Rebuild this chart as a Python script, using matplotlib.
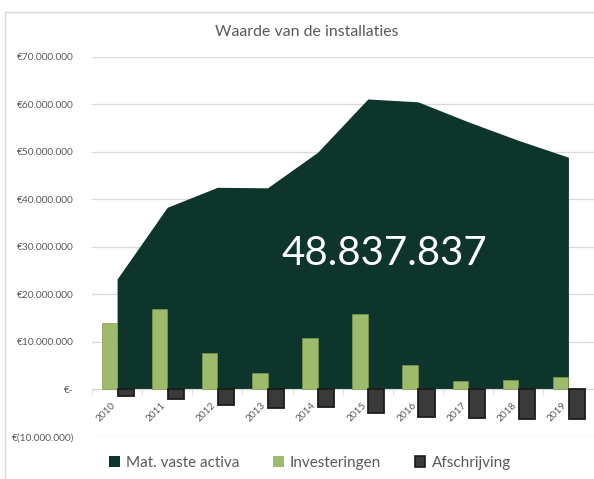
import numpy as np
import matplotlib
matplotlib.use("Agg")
import matplotlib.pyplot as plt
from matplotlib.patches import Patch, Rectangle
from matplotlib.ticker import FuncFormatter

plt.rcParams['font.family'] = ['Lato', 'DejaVu Sans']

# data (euro)
years = ['2010', '2011', '2012', '2013', '2014', '2015', '2016', '2017', '2018', '2019']
mat_vaste_activa = [23.2e6, 38.3e6, 42.5e6, 42.4e6, 49.9e6, 61.1e6, 60.5e6, 56.3e6, 52.4e6, 48837837]
investeringen = [13.9e6, 16.9e6, 7.7e6, 3.4e6, 10.8e6, 15.9e6, 5.1e6, 1.7e6, 1.9e6, 2.5e6]
afschrijving = [-1.4e6, -2.0e6, -3.4e6, -3.9e6, -3.7e6, -5.1e6, -5.9e6, -6.1e6, -6.3e6, -6.3e6]

c_area = '#0d352b'
c_green = '#9dbb6a'
c_dark = '#3b3a38'
c_grey = '#595959'
c_grid = '#d9d9d9'


def euro(v, pos):
    if v == 0:
        return '€-'
    s = f"{abs(v):,.0f}".replace(',', '.')
    return f"€({s})" if v < 0 else f"€{s}"


fig = plt.figure(figsize=(5.94, 4.79), dpi=100)
ax = fig.add_axes([92 / 594, 1 - 436.7 / 479, (593.5 - 92) / 594, (436.7 - 56.7) / 479])

x = np.arange(len(years))
ax.fill_between(x, 0, mat_vaste_activa, color=c_area, lw=0, zorder=1)
ax.bar(x - 0.155, investeringen, width=0.31, color=c_green, edgecolor='#7d9a52', lw=0.5, zorder=3)
ax.bar(x + 0.17, afschrijving, width=0.32, color=c_dark, edgecolor='#1c1c1c', lw=1.3, zorder=3)

ax.set_xlim(-0.5, len(years) - 0.5)
ax.set_ylim(-10e6, 70e6)
ax.set_yticks(np.arange(-10e6, 70e6 + 1, 10e6))
ax.yaxis.set_major_formatter(FuncFormatter(euro))
ax.grid(axis='y', color=c_grid, lw=0.9)
ax.set_axisbelow(True)

for s in ['top', 'right', 'left']:
    ax.spines[s].set_visible(False)
ax.spines['bottom'].set_position(('data', 0))
ax.spines['bottom'].set_color(c_grid)
ax.spines['bottom'].set_zorder(2)

ax.set_xticks(x)
ax.set_xticklabels(years)
ax.set_xticks(np.arange(len(years) + 1) - 0.5, minor=True)
ax.tick_params(axis='x', which='major', length=0, pad=8, labelsize=7.2, labelcolor=c_grey)
ax.tick_params(axis='x', which='minor', length=4, color=c_grid)
ax.tick_params(axis='y', length=0, pad=13, labelsize=7.3, labelcolor=c_grey)
for lbl in ax.get_xticklabels():
    lbl.set_rotation(45)
    lbl.set_ha('right')
    lbl.set_zorder(5)

last = f"{mat_vaste_activa[-1]:,.0f}".replace(',', '.')
ax.text(5.32, 28.5e6, last, ha='center', va='center', color='white', fontsize=29, zorder=6)

fig.text(307 / 594, 1 - 32 / 479, 'Waarde van de installaties', ha='center', va='center',
         fontsize=11.4, color=c_grey)

handles = [Patch(facecolor=c_area, label='Mat. vaste activa'),
           Patch(facecolor=c_green, label='Investeringen'),
           Patch(facecolor=c_dark, edgecolor='#1c1c1c', lw=1.2, label='Afschrijving')]
fig.legend(handles=handles, loc='center', bbox_to_anchor=(310 / 594, 1 - 463 / 479), ncol=3,
           frameon=False, fontsize=11, handlelength=0.7, handleheight=0.7,
           handletextpad=0.4, columnspacing=2.2, labelcolor=c_grey)

fig.add_artist(Rectangle((5 / 594, -0.05), 1.2, (479 - 12) / 479 + 0.05, transform=fig.transFigure,
                         fill=False, edgecolor=c_grid, lw=1))

fig.savefig('out.png', dpi=100)
